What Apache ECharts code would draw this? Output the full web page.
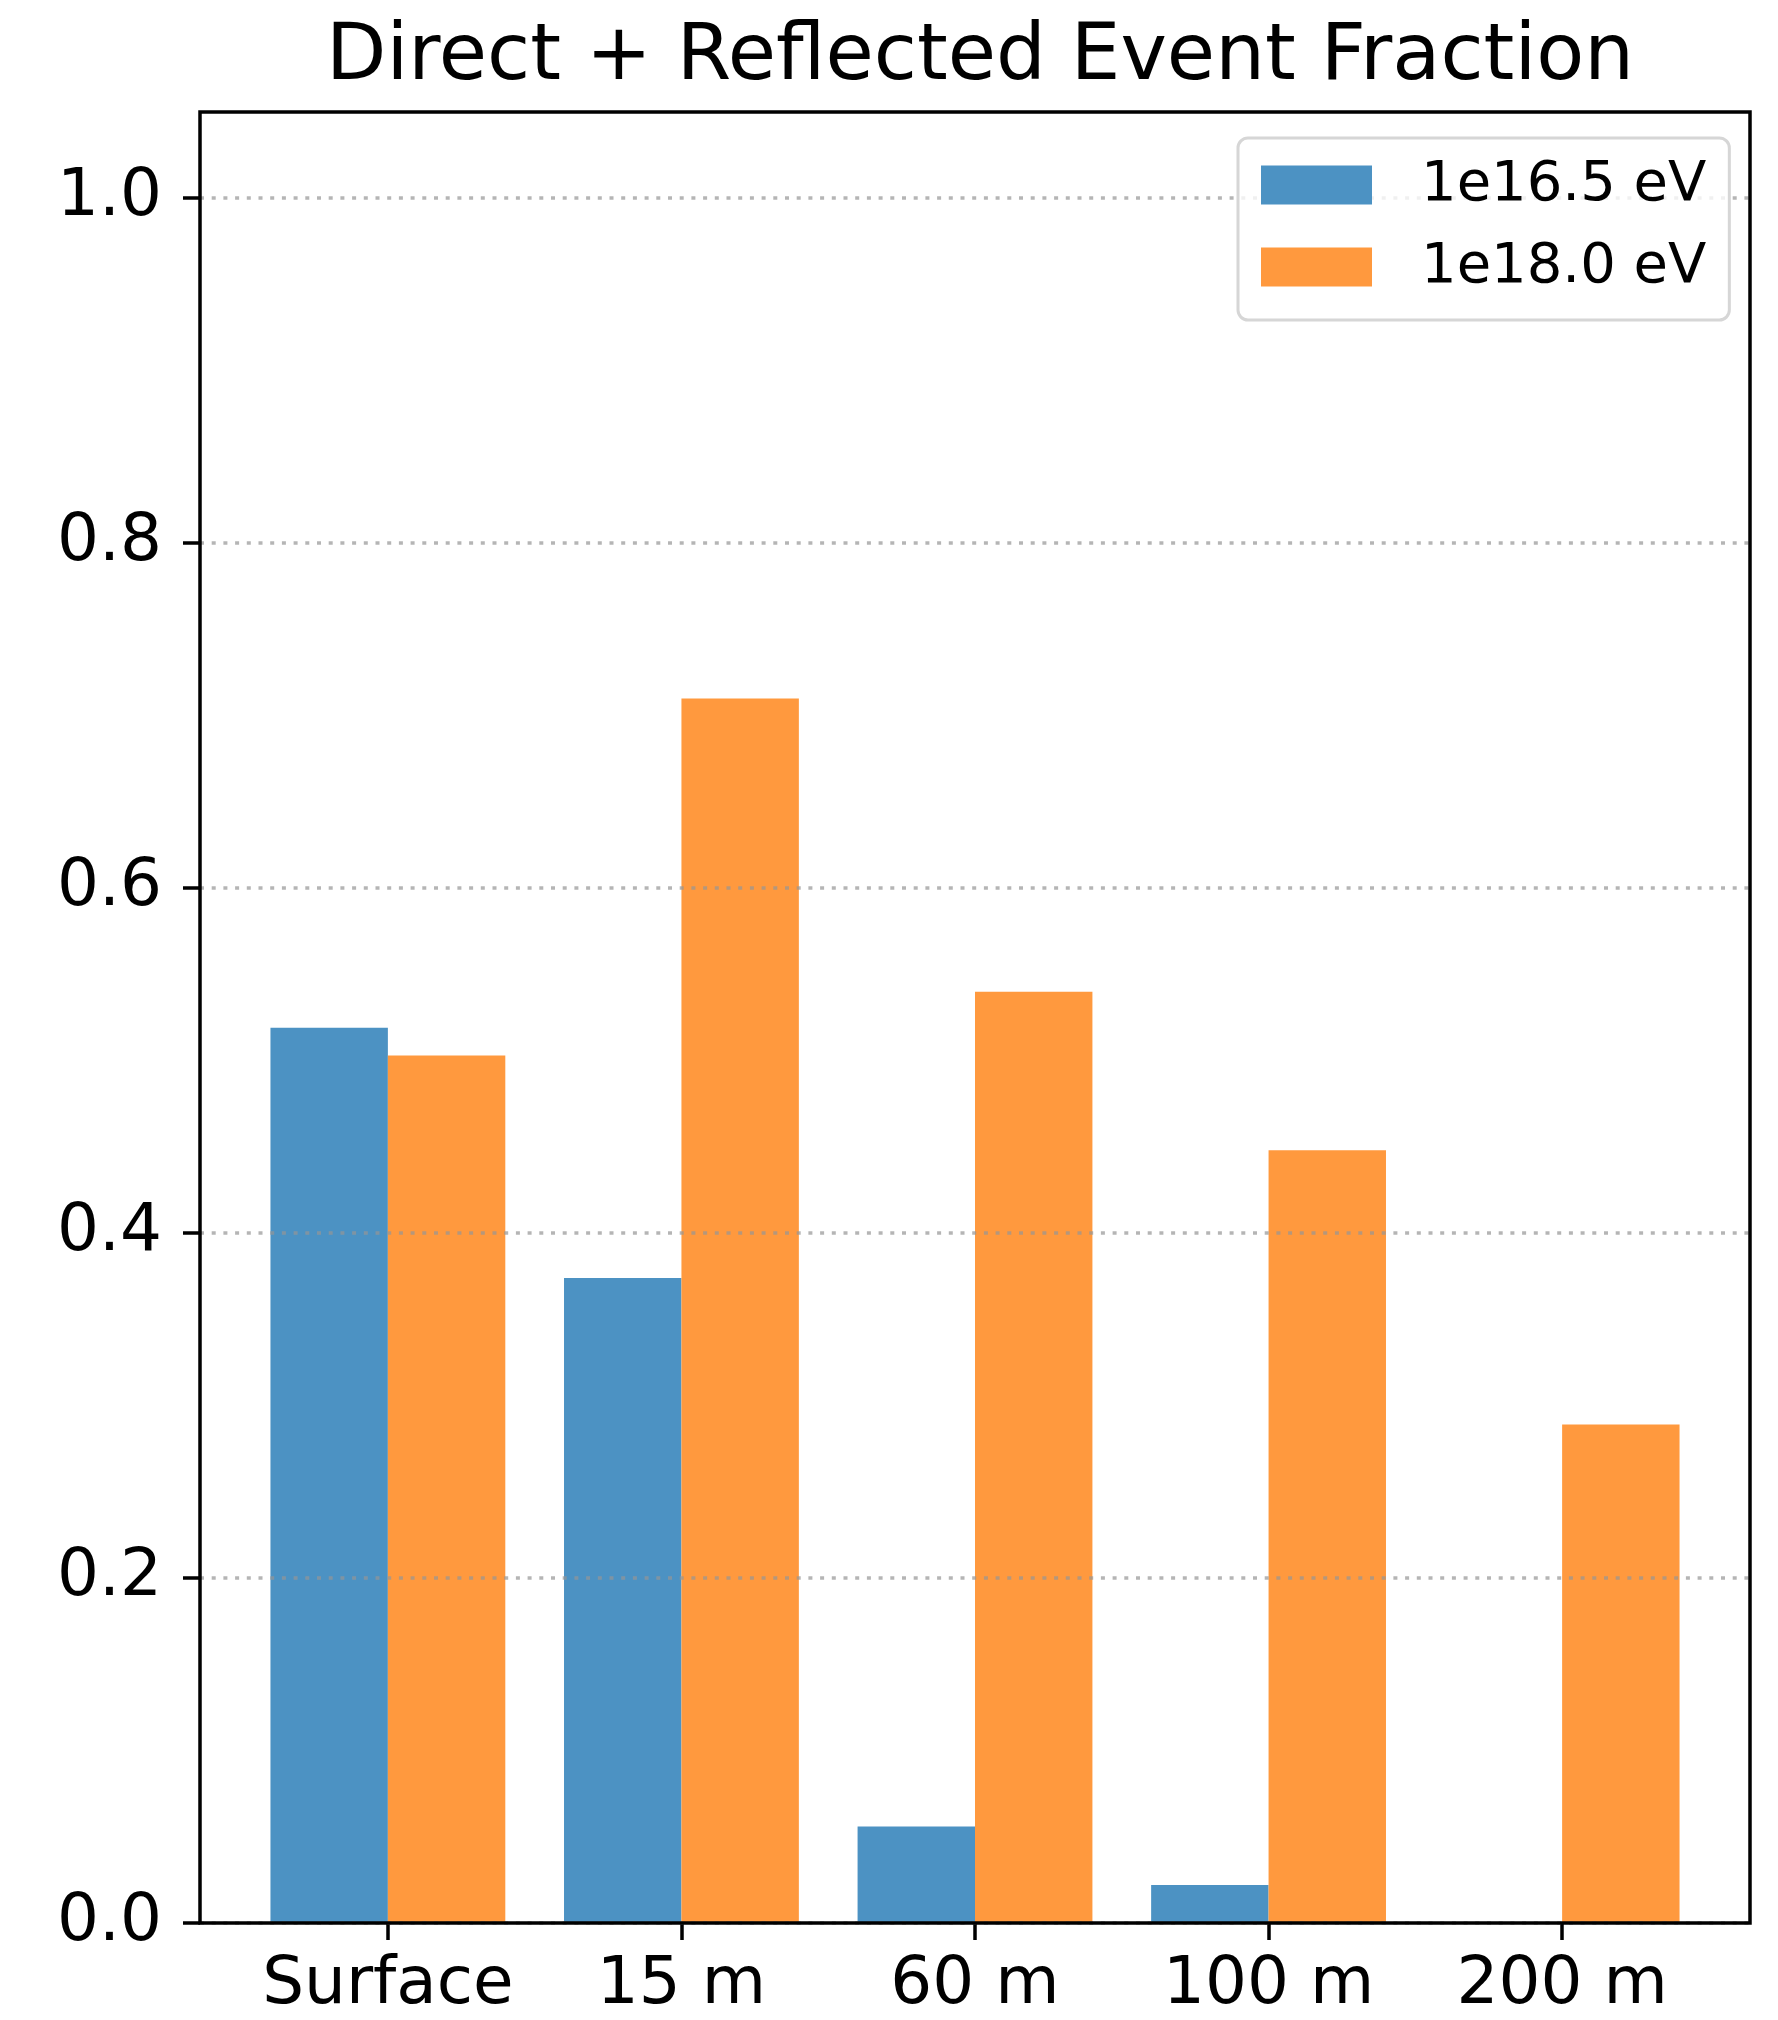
<!DOCTYPE html>
<html>
<head>
<meta charset="utf-8">
<script src="https://cdn.jsdelivr.net/npm/echarts@6/dist/echarts.min.js"></script>
<style>
  html, body { margin: 0; padding: 0; background: #fff; }
  #chart { width: 1778px; height: 2020px; }
</style>
</head>
<body>
<div id="chart"></div>
<script>
// data
var categories = ['Surface', '15 m', '60 m', '100 m', '200 m']
var seriesNames = ['1e16.5 eV', '1e18.0 eV']
var fracLow = [0.519, 0.374, 0.056, 0.022, 0]
var fracHigh = [0.503, 0.710, 0.540, 0.448, 0.289]
var yTicks = [0, 0.2, 0.4, 0.6, 0.8, 1.0]

var FONT = 'DejaVu Sans'
// frame box (matplotlib axes) and the inner band for the 5 categories
var frame = { left: 200, top: 112, width: 1550, height: 1811 }
var unit = frame.width / 5.28
var inner = { left: frame.left + 0.14 * unit, top: frame.top, width: 5 * unit, height: frame.height }

var chart = echarts.init(document.getElementById('chart'))

var option = {
  backgroundColor: '#ffffff',
  animation: false,
  title: {
    text: 'Direct + Reflected Event Fraction',
    left: frame.left + frame.width / 2,
    textAlign: 'center',
    top: 14,
    textStyle: { fontFamily: FONT, fontSize: 78.5, fontWeight: 'normal', color: '#000' }
  },
  legend: {
    data: seriesNames,
    orient: 'vertical',
    left: 1238,
    top: 138,
    z: 12,
    icon: 'rect',
    itemWidth: 111,
    itemHeight: 39,
    itemGap: 26,
    padding: [19, 23, 25, 23],
    backgroundColor: 'rgba(255,255,255,0.8)',
    borderColor: '#d6d6d6',
    borderWidth: 3,
    borderRadius: 10,
    textStyle: { fontFamily: FONT, fontSize: 56, color: '#000', padding: [0, 0, 0, 44] }
  },
  grid: [
    {
      left: frame.left, top: frame.top, width: frame.width, height: frame.height,
      z: 10,
      show: true, borderColor: '#000', borderWidth: 3.5, backgroundColor: 'transparent'
    },
    { left: inner.left, top: inner.top, width: inner.width, height: inner.height }
  ],
  xAxis: [
    { gridIndex: 0, type: 'value', min: 0, max: 1, show: false },
    {
      gridIndex: 1,
      type: 'category',
      data: categories,
      axisLine: { show: false },
      axisTick: { show: true, alignWithLabel: true, interval: 0, length: 17, lineStyle: { color: '#000', width: 3.5 } },
      axisLabel: { interval: 0, margin: 30, fontFamily: FONT, fontSize: 66, color: '#000' }
    }
  ],
  yAxis: [
    {
      gridIndex: 0,
      type: 'value',
      min: 0,
      max: 1.05,
      interval: 0.2,
      z: 5,
      axisLine: { show: false },
      axisTick: { show: true, customValues: yTicks, length: 17, lineStyle: { color: '#000', width: 3.5 } },
      axisLabel: {
        customValues: yTicks,
        margin: 38,
        fontFamily: FONT,
        fontSize: 66,
        color: '#000',
        formatter: function (v) { return v.toFixed(1) }
      },
      splitLine: {
        show: true,
        lineStyle: { color: 'rgba(150,150,150,0.7)', width: 3.5, type: [4, 7.7] }
      }
    },
    { gridIndex: 1, type: 'value', min: 0, max: 1.05, show: false }
  ],
  series: [
    {
      name: seriesNames[0],
      type: 'bar',
      xAxisIndex: 1,
      yAxisIndex: 1,
      barWidth: '40%',
      barGap: '0%',
      itemStyle: { color: '#4c92c3' },
      data: fracLow
    },
    {
      name: seriesNames[1],
      type: 'bar',
      xAxisIndex: 1,
      yAxisIndex: 1,
      barWidth: '40%',
      barGap: '0%',
      itemStyle: { color: '#ff993e' },
      data: fracHigh
    }
  ]
}

chart.setOption(option)
</script>
</body>
</html>
